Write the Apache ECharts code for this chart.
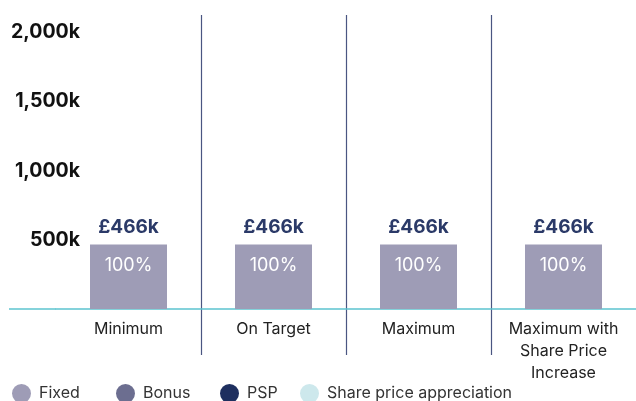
<!DOCTYPE html>
<html>
<head>
<meta charset="utf-8">
<script src="https://cdn.jsdelivr.net/npm/echarts@6/dist/echarts.min.js"></script>
<style>
  html, body { margin: 0; padding: 0; background: #fff; overflow: hidden; }
  #chart { width: 636px; height: 401px; }
</style>
</head>
<body>
<div id="chart"></div>
<script>
// Remuneration scenarios (£000)
const scenarios = ['Minimum', 'On Target', 'Maximum', 'Maximum with\nShare Price\nIncrease'];
const fixedPay = [466, 466, 466, 466];
const bonusPay = [0, 0, 0, 0];
const pspPay = [0, 0, 0, 0];
const sharePriceGain = [0, 0, 0, 0];
const yTicks = [0, 500, 1000, 1500, 2000];

const FONT = 'Inter, Lato, sans-serif';
const components = [
  { name: 'Fixed', data: fixedPay, color: '#9e9cb6' },
  { name: 'Bonus', data: bonusPay, color: '#6c6e90' },
  { name: 'PSP', data: pspPay, color: '#1e2f5f' },
  { name: 'Share price appreciation', data: sharePriceGain, color: '#cde8ec' }
];
const totals = scenarios.map((_, i) => components.reduce((s, c) => s + c.data[i], 0));

// Left offset of each legend entry along the bottom row
const legendLeft = [12, 116, 220, 300];

const sepColor = '#4a5682';
const axisTeal = '#5cc4cf';
const chart = echarts.init(document.getElementById('chart'), null, { renderer: 'canvas' });

const series = components.map(c => ({
  name: c.name,
  type: 'bar',
  stack: 'pay',
  barWidth: 77,
  data: c.data,
  itemStyle: { color: c.color },
  label: {
    show: true,
    position: 'insideTop',
    distance: 12,
    color: '#ffffff',
    fontFamily: FONT,
    fontSize: 18,
    formatter: p => p.value > 0 ? Math.round(p.value / totals[p.dataIndex] * 100) + '%' : ''
  }
}));

// Transparent overlay carrying the total label above each stack
series.push({
  name: 'Total',
  type: 'bar',
  barWidth: 77,
  barGap: '-100%',
  data: totals,
  itemStyle: { color: 'rgba(0,0,0,0)' },
  silent: true,
  z: 1,
  label: {
    show: true,
    position: 'top',
    distance: 8,
    color: '#2b3a68',
    fontFamily: FONT,
    fontWeight: 'bold',
    fontSize: 19,
    formatter: p => '£' + p.value + 'k'
  }
});

const legends = components.map((c, i) => ({
  data: [c.name],
  left: legendLeft[i],
  top: 384,
  padding: 0,
  icon: 'circle',
  itemWidth: 19,
  itemHeight: 19,
  textStyle: { fontFamily: FONT, fontSize: 16, color: '#333333', padding: [0, 0, 0, 3] }
}));

chart.setOption({
  animation: false,
  grid: [
    { left: 56, right: 0, top: 15, bottom: 92, containLabel: false },
    // overlay spanning the plot and label band, used for the scenario separators
    { left: 56, right: 0, top: 15, height: 340, containLabel: false }
  ],
  legend: legends,
  xAxis: [{
    type: 'category',
    gridIndex: 0,
    data: scenarios,
    axisLine: { show: true, lineStyle: { color: axisTeal, width: 1.5 } },
    axisTick: { show: false },
    splitLine: { show: false },
    axisLabel: {
      interval: 0,
      margin: 9,
      fontFamily: FONT,
      fontSize: 16,
      color: '#222222',
      lineHeight: 22
    }
  }, {
    // one unit per scenario; inner unit boundaries separate the scenarios
    type: 'value',
    gridIndex: 1,
    min: 0,
    max: scenarios.length,
    interval: 1,
    axisLine: { show: false },
    axisTick: { show: false },
    axisLabel: { show: false },
    splitLine: {
      show: true,
      showMinLine: false,
      showMaxLine: false,
      lineStyle: { color: sepColor, width: 1.2 }
    }
  }],
  yAxis: [{
    type: 'value',
    gridIndex: 0,
    min: yTicks[0],
    max: 2125,
    interval: 500,
    axisLine: { show: false },
    axisTick: { show: false },
    splitLine: { show: false },
    axisLabel: {
      showMaxLabel: false,
      margin: -24,
      fontFamily: FONT,
      fontWeight: 'bold',
      fontSize: 19.5,
      color: '#111111',
      formatter: v => (v === 0 || !yTicks.includes(v)) ? '' : v.toLocaleString('en-GB') + 'k'
    }
  }, {
    type: 'value',
    gridIndex: 1,
    show: false
  }],
  series: series
});

// Extend the baseline to the left edge of the plot area
const y0 = chart.convertToPixel({ yAxisIndex: 0 }, 0);
chart.setOption({
  graphic: [{
    type: 'line',
    shape: { x1: 9, y1: y0, x2: 56, y2: y0 },
    style: { stroke: axisTeal, lineWidth: 1.5 }
  }]
});
</script>
</body>
</html>
